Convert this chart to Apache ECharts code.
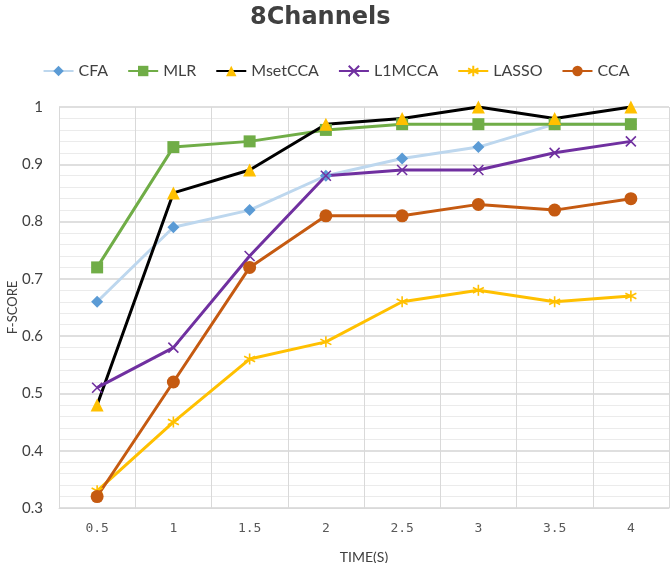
<!DOCTYPE html>
<html>
<head>
<meta charset="utf-8">
<script src="https://cdn.jsdelivr.net/npm/echarts@6/dist/echarts.min.js"></script>
<style>
  html, body { margin: 0; padding: 0; background: #fff; }
  #chart-area { width: 672px; height: 563px; }
</style>
</head>
<body>
<div id="chart-area"></div>
<script>
var times = ['0.5', '1', '1.5', '2', '2.5', '3', '3.5', '4'];
var yTicks = [0.3, 0.4, 0.5, 0.6, 0.7, 0.8, 0.9, 1];

var cfa = [0.66, 0.79, 0.82, 0.88, 0.91, 0.93, 0.97, 0.97];
var mlr = [0.72, 0.93, 0.94, 0.96, 0.97, 0.97, 0.97, 0.97];
var msetcca = [0.48, 0.85, 0.89, 0.97, 0.98, 1.0, 0.98, 1.0];
var l1mcca = [0.51, 0.58, 0.74, 0.88, 0.89, 0.89, 0.92, 0.94];
var lasso = [0.33, 0.45, 0.56, 0.59, 0.66, 0.68, 0.66, 0.67];
var cca = [0.32, 0.52, 0.72, 0.81, 0.81, 0.83, 0.82, 0.84];

var FONT = 'Lato';
var crossPath = 'path://M0,0L10,10M10,0L0,10';
var starPath = 'path://M5,0L5,10M0.8,2.5L9.2,7.5M9.2,2.5L0.8,7.5';

// 시리즈 하나 만들기
function makeSeries(name, data, lineColor, markColor, symbol, size, stroke) {
    var s = {
        name: name,
        type: 'line',
        data: data,
        symbol: symbol,
        symbolSize: size,
        showAllSymbol: true,
        lineStyle: { color: lineColor, width: 3 },
        itemStyle: { color: markColor, opacity: 1 },
        emphasis: { disabled: true }
    };
    if (stroke) { // x, * 마커는 선으로 그리기
        s.itemStyle = { color: 'none', borderColor: markColor, borderWidth: 1.6 };
    }
    return s;
}

var chart = echarts.init(document.getElementById('chart-area'));
chart.setOption({
    animation: false,
    title: {
        text: '8Channels',
        left: 245,
        top: 1,
        textStyle: { fontFamily: 'DejaVu Sans', fontSize: 24, fontWeight: 'bold', color: '#404040' }
    },
    legend: {
        top: 58,
        left: 'center',
        itemWidth: 30,
        itemHeight: 13,
        itemGap: 19,
        textStyle: { fontFamily: FONT, fontSize: 16, color: '#404040' },
        data: ['CFA', 'MLR', 'MsetCCA', 'L1MCCA', 'LASSO', 'CCA']
    },
    grid: { left: 59, right: 3, top: 107, bottom: 55, outerBoundsMode: 'none' },
    xAxis: {
        type: 'category',
        data: times,
        boundaryGap: true,
        name: 'TIME(S)',
        nameLocation: 'middle',
        nameGap: 42,
        nameMoveOverlap: false,
        nameTextStyle: { fontFamily: FONT, fontSize: 14, color: '#404040' },
        axisLine: { lineStyle: { color: '#d9d9d9', width: 1 } },
        axisTick: { show: false },
        axisLabel: { fontFamily: 'DejaVu Sans Mono', fontSize: 13, color: '#595959', margin: 14 },
        splitLine: { show: true, lineStyle: { color: '#d9d9d9', width: 1 } }
    },
    yAxis: {
        type: 'value',
        min: yTicks[0],
        max: yTicks[yTicks.length - 1],
        interval: 0.1,
        name: 'F-SCORE',
        nameLocation: 'middle',
        nameGap: 40,
        nameMoveOverlap: false,
        nameTextStyle: { fontFamily: FONT, fontSize: 13, color: '#404040' },
        axisLine: { show: false },
        axisTick: { show: false },
        axisLabel: { fontFamily: FONT, fontSize: 15, color: '#404040', margin: 16,
            formatter: function (v) { return String(Math.round(v * 10) / 10); } },
        splitLine: { show: true, lineStyle: { color: '#d4d4d4', width: 1.5 } },
        minorTick: { show: false, splitNumber: 5 },
        minorSplitLine: { show: true, lineStyle: { color: '#ebebeb', width: 1 } }
    },
    series: [
        makeSeries('CFA', cfa, '#BDD7EE', '#5B9BD5', 'diamond', 12),
        makeSeries('MLR', mlr, '#70AD47', '#70AD47', 'rect', 12),
        makeSeries('MsetCCA', msetcca, '#000000', '#FFC000', 'triangle', 13),
        makeSeries('L1MCCA', l1mcca, '#7030A0', '#7030A0', crossPath, 10, true),
        makeSeries('LASSO', lasso, '#FFC000', '#FFC000', starPath, 11, true),
        makeSeries('CCA', cca, '#C55A11', '#C55A11', 'circle', 13)
    ]
});
</script>
</body>
</html>
